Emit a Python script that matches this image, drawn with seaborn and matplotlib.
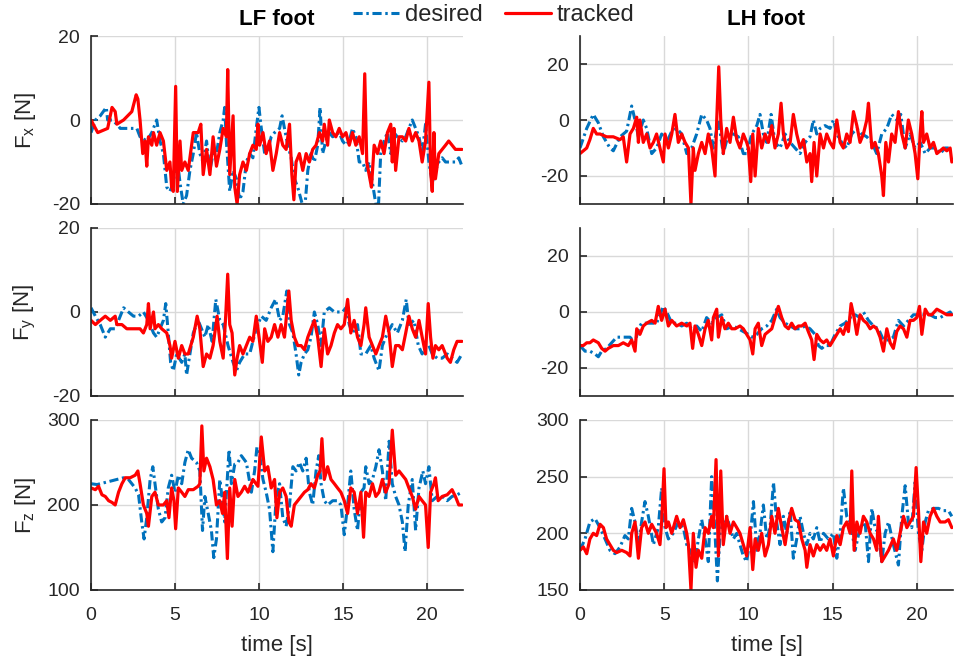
import numpy as np
import pandas as pd
import matplotlib
matplotlib.use("Agg")
import matplotlib.pyplot as plt
import seaborn as sns

# ---- data (time in s, force in N) ----
t_fx_lf_des = [0.00, 0.26, 0.55, 0.91, 0.99, 1.25, 1.54, 1.74, 2.13, 2.53, 2.73, 2.92, 3.32, 3.62, 3.91, 4.11, 4.31, 4.51, 4.70, 4.90, 5.10, 5.30, 5.49, 5.69, 5.89, 6.09, 6.28, 6.48, 6.68, 6.88, 7.08, 7.27, 7.47, 7.67, 7.87, 7.96, 8.06, 8.26, 8.46, 8.66, 8.85, 9.05, 9.25, 9.45, 9.64, 9.84, 10.00, 10.14, 10.34, 10.53, 10.73, 10.93, 11.23, 11.38, 11.52, 11.72, 11.92, 12.11, 12.31, 12.51, 12.71, 12.91, 13.10, 13.30, 13.50, 13.64, 13.79, 13.99, 14.19, 14.39, 14.78, 14.98, 15.18, 15.38, 15.57, 15.77, 15.97, 16.17, 16.36, 16.56, 16.76, 16.96, 17.09, 17.25, 17.45, 17.65, 17.85, 18.04, 18.24, 18.54, 18.74, 18.93, 19.13, 19.33, 19.53, 19.72, 19.92, 20.12, 20.32, 20.51, 20.71, 20.91, 21.11, 21.30, 21.50, 21.70, 21.90, 22.09]
fx_lf_des = [-3, 0, 1, 3, 0, 0, -1, -2, -2, -2, -2, -4, -5, -3, 0, -5, -8, -16, -17, -15, -8, -15, -20, -18, -12, -8, -3, -8, -10, -5, -12, -8, -8, -3, 0, 3, -5, -17, -12, -14, -19, -17, -10, -8, -9, -2, 3, -2, -8, -7, -4, -3, -2, 1, -2, -6, -9, -14, -16, -19, -22, -12, -8, -10, -6, 3, -8, -5, -3, -4, -3, -5, -6, -5, -2, -4, -10, -10, -12, -10, -15, -20, -23, -8, -5, -3, -8, -3, -4, -5, -4, -2, 0, -2, -4, -8, -1, -10, -15, -12, -10, -9, -10, -10, -10, -10, -9, -11]

t_fx_lf_trk = [0.00, 0.40, 0.99, 1.25, 1.44, 1.54, 1.94, 2.43, 2.69, 2.79, 2.92, 3.08, 3.22, 3.32, 3.42, 3.62, 3.72, 3.91, 4.11, 4.31, 4.51, 4.70, 4.80, 4.90, 5.04, 5.14, 5.30, 5.40, 5.59, 5.79, 6.09, 6.38, 6.54, 6.68, 6.88, 7.08, 7.27, 7.47, 7.67, 7.87, 8.06, 8.14, 8.26, 8.46, 8.56, 8.70, 8.85, 9.05, 9.25, 9.45, 9.64, 9.84, 9.94, 10.04, 10.24, 10.43, 10.63, 10.83, 11.03, 11.23, 11.42, 11.62, 11.82, 11.96, 12.08, 12.21, 12.41, 12.61, 12.81, 13.00, 13.20, 13.40, 13.60, 13.79, 13.89, 14.09, 14.19, 14.39, 14.58, 14.78, 14.98, 15.18, 15.38, 15.57, 15.77, 15.97, 16.17, 16.30, 16.42, 16.56, 16.70, 16.86, 17.06, 17.25, 17.45, 17.65, 17.85, 17.94, 18.04, 18.14, 18.34, 18.54, 18.74, 18.93, 19.13, 19.33, 19.53, 19.72, 19.92, 20.12, 20.22, 20.32, 20.42, 20.51, 20.71, 20.91, 21.11, 21.30, 21.50, 21.70, 21.90, 22.09]
fx_lf_trk = [0, -3, -2, 3, 2, -1, 0, 2, 6, 5, 0, -8, -5, -11, -4, -6, -3, -6, -3, -5, -12, -10, -16, -17, 8, -17, -5, -12, -10, -12, -3, -3, -1, -13, -7, -13, -4, -11, -7, -2, -4, 12, -13, 1, -16, -20, -13, -10, -12, -8, -6, -7, -1, -6, -3, -8, -5, -12, -8, -3, -6, -7, -1, -13, -19, -10, -8, -12, -8, -10, -7, -6, -3, -5, -1, -6, 0, -3, -4, -2, -4, -3, -6, -3, -6, -4, -8, 11, -10, -13, -16, -6, -8, -5, -8, -3, -1, -10, -2, -12, -4, -4, -5, -2, -5, -3, -5, -10, -5, 9, -12, -17, -3, -14, -8, -7, -6, -5, -6, -7, -7, -7]

t_fx_lh_des = [0.00, 0.40, 0.79, 1.09, 1.39, 1.78, 1.98, 2.38, 2.77, 3.07, 3.27, 3.47, 3.76, 3.96, 4.26, 4.55, 4.85, 5.15, 5.45, 5.74, 6.04, 6.34, 6.63, 6.93, 7.23, 7.52, 7.72, 7.92, 8.22, 8.51, 8.81, 9.11, 9.41, 9.70, 9.90, 10.20, 10.50, 10.69, 10.89, 11.09, 11.35, 11.58, 11.88, 12.18, 12.48, 12.77, 13.07, 13.37, 13.66, 13.86, 14.06, 14.26, 14.55, 14.85, 15.05, 15.25, 15.54, 15.84, 16.14, 16.44, 16.73, 17.03, 17.33, 17.62, 17.92, 18.22, 18.51, 18.81, 19.05, 19.31, 19.60, 19.90, 20.20, 20.50, 20.79, 21.09, 21.39, 21.68, 21.98, 22.08]
fx_lh_des = [-10, -3, 2, -1, -6, -10, -11, -6, -4, 5, 0, -6, 0, -3, -12, -10, -5, -8, -4, -3, -5, -12, -10, -5, 2, 0, -3, -10, 0, -12, -5, -5, -6, -12, -12, -5, -2, 2, -5, -8, 2, -8, -10, -5, -8, -10, -12, -8, -6, 0, -5, -3, -2, -3, 0, -5, -8, -10, -5, -3, -5, -6, -8, -12, -5, -3, 2, 0, 2, -10, -5, -10, -8, -12, -10, -10, -12, -10, -10, -10]

t_fx_lh_trk = [0.00, 0.20, 0.40, 0.59, 0.79, 0.99, 1.19, 1.58, 1.98, 2.38, 2.57, 2.77, 2.97, 3.17, 3.37, 3.47, 3.56, 3.76, 3.96, 4.16, 4.36, 4.55, 4.75, 4.95, 5.05, 5.25, 5.45, 5.64, 5.84, 6.04, 6.24, 6.44, 6.59, 6.73, 6.83, 7.03, 7.23, 7.43, 7.62, 7.82, 8.02, 8.12, 8.24, 8.36, 8.51, 8.71, 8.91, 9.11, 9.31, 9.50, 9.70, 9.90, 10.00, 10.14, 10.26, 10.40, 10.59, 10.79, 10.99, 11.19, 11.39, 11.58, 11.78, 11.94, 12.08, 12.28, 12.48, 12.67, 12.87, 13.07, 13.27, 13.47, 13.66, 13.76, 13.90, 14.06, 14.26, 14.46, 14.65, 14.85, 15.05, 15.25, 15.45, 15.64, 15.84, 16.04, 16.24, 16.44, 16.63, 16.83, 17.03, 17.13, 17.33, 17.52, 17.72, 17.92, 18.02, 18.16, 18.32, 18.51, 18.71, 18.91, 19.11, 19.31, 19.50, 19.70, 19.90, 20.06, 20.20, 20.30, 20.40, 20.59, 20.79, 20.99, 21.19, 21.39, 21.58, 21.78, 21.98, 22.08]
fx_lh_trk = [-12, -11, -10, -7, -3, -5, -5, -6, -6, -7, -6, -15, -5, -3, 1, -8, 0, -8, -5, -10, -8, -5, -10, -15, -5, -10, -5, 2, -8, -5, -8, -10, -30, -10, -18, -12, -8, -12, -5, -10, -20, 0, 19, 0, -12, -3, -8, 1, -7, -10, -5, -8, -10, -22, -5, -20, -3, -10, -5, -8, -2, -10, -5, 6, -5, -10, -8, 2, -5, -10, -7, -15, -12, -22, -8, -20, -5, -10, -5, -8, -10, 0, -8, -10, -5, -8, 3, -2, -8, -5, 0, 6, -10, -8, -12, -20, -27, -8, -15, -5, -8, 3, -5, -10, 0, -5, -12, -21, -5, 3, -8, -5, -10, -8, -12, -11, -10, -11, -10, -15]

t_fy_lf_des = [0.00, 0.26, 0.55, 0.85, 1.15, 1.44, 1.64, 1.94, 2.23, 2.53, 2.83, 3.12, 3.42, 3.72, 3.91, 4.11, 4.31, 4.45, 4.60, 4.74, 4.90, 5.10, 5.40, 5.59, 5.69, 5.89, 6.09, 6.38, 6.58, 6.78, 6.98, 7.21, 7.43, 7.67, 7.87, 8.16, 8.46, 8.66, 8.85, 9.15, 9.45, 9.64, 9.84, 10.14, 10.43, 10.73, 10.99, 11.23, 11.42, 11.66, 11.82, 12.02, 12.21, 12.37, 12.51, 12.71, 12.91, 13.10, 13.30, 13.50, 13.70, 13.89, 14.19, 14.49, 14.78, 14.98, 15.18, 15.38, 15.57, 15.87, 16.07, 16.36, 16.66, 16.86, 17.15, 17.35, 17.65, 17.94, 18.24, 18.54, 18.77, 18.93, 19.23, 19.49, 19.72, 19.92, 20.12, 20.32, 20.61, 20.91, 21.21, 21.50, 21.80, 22.09]
fy_lf_des = [1, -1, -3, -6, -4, -4, -2, 1, 0, -1, -1, 0, -2, -5, -6, -4, -2, 2, -5, -12, -14, -10, -12, -10, -15, -10, -5, -2, -4, -6, -3, -7, 3, -2, -3, -8, -12, -14, -12, -10, -10, -7, -4, -1, -2, 1, 3, -2, -1, 5, -3, -5, -10, -15, -12, -10, -9, -6, 0, -3, -8, 0, 1, 0, 0, 0, 1, -3, -5, -3, -10, -10, -8, -11, -14, -8, -5, -3, -5, -2, 3, -3, -2, -8, -10, -8, -8, -10, -11, -11, -10, -11, -12, -10]

t_fy_lf_trk = [0.00, 0.26, 0.55, 0.85, 1.15, 1.44, 1.54, 1.84, 2.13, 2.53, 2.92, 3.12, 3.32, 3.42, 3.52, 3.72, 3.81, 4.01, 4.21, 4.51, 4.70, 4.80, 5.00, 5.20, 5.40, 5.59, 5.79, 6.09, 6.32, 6.48, 6.68, 6.88, 7.08, 7.27, 7.51, 7.67, 7.87, 8.02, 8.14, 8.26, 8.40, 8.56, 8.70, 8.85, 9.05, 9.25, 9.45, 9.64, 9.84, 10.04, 10.20, 10.34, 10.53, 10.73, 10.93, 11.13, 11.32, 11.52, 11.66, 11.78, 11.92, 12.11, 12.31, 12.51, 12.71, 12.91, 13.10, 13.30, 13.50, 13.70, 13.89, 14.09, 14.29, 14.49, 14.68, 14.88, 15.08, 15.28, 15.47, 15.67, 15.87, 16.07, 16.26, 16.36, 16.56, 16.76, 16.96, 17.15, 17.35, 17.55, 17.75, 17.94, 18.14, 18.34, 18.54, 18.74, 18.93, 19.13, 19.33, 19.53, 19.72, 19.92, 20.08, 20.22, 20.36, 20.51, 20.71, 20.91, 21.21, 21.40, 21.60, 21.80, 22.09]
fy_lf_trk = [-2, -3, -2, -1, -2, -1, -3, -3, -4, -4, -4, -5, -3, 2, -4, 0, -4, -3, -4, -5, -8, -11, -7, -11, -8, -10, -10, -6, -1, -4, -13, -10, -11, -8, -1, -7, -11, -1, 9, -3, -5, -15, -11, -8, -10, -8, -6, -7, -1, -7, -12, -4, -7, -6, -3, -6, -3, -6, 0, 5, -2, -6, -8, -8, -9, -6, -4, -2, -6, -13, -4, -10, -8, -5, -3, -4, -3, 3, -5, -2, -6, -8, -3, 1, -6, -8, -10, -8, -6, -1, -5, -13, -8, -8, -9, -5, -1, -4, -6, -2, -6, -10, 2, -6, -11, -8, -9, -8, -11, -12, -9, -7, -7]

t_fy_lh_des = [0.00, 0.30, 0.59, 0.89, 1.09, 1.29, 1.58, 1.88, 2.18, 2.57, 2.97, 3.27, 3.47, 3.66, 3.96, 4.26, 4.55, 4.75, 4.95, 5.15, 5.45, 5.74, 6.04, 6.34, 6.63, 6.93, 7.23, 7.52, 7.82, 8.12, 8.42, 8.71, 9.11, 9.41, 9.70, 10.00, 10.20, 10.50, 10.79, 11.09, 11.39, 11.68, 11.88, 12.18, 12.48, 12.77, 13.07, 13.37, 13.66, 13.96, 14.16, 14.36, 14.55, 14.85, 15.15, 15.45, 15.74, 16.04, 16.34, 16.63, 16.83, 17.13, 17.43, 17.72, 18.02, 18.32, 18.61, 18.91, 19.21, 19.50, 19.80, 20.10, 20.40, 20.79, 21.09, 21.39, 21.68, 21.98, 22.08]
fy_lh_des = [-12, -14, -14, -15, -16, -14, -13, -11, -9, -9, -9, -11, -6, -4, -4, -4, -4, -1, 2, 0, -4, -4, -5, -4, -6, -5, -7, -2, -4, -2, -1, -6, -5, -6, -7, -8, -9, -8, -6, -5, -3, 1, -2, -4, -5, -6, -6, -5, -6, -8, -12, -13, -12, -12, -8, -5, -4, -2, -1, -2, 0, -3, -5, -6, -10, -10, -9, -3, -5, -3, -1, -1, -1, -1, -2, -2, -1, 0, -1]

t_fy_lh_trk = [0.00, 0.20, 0.40, 0.59, 0.79, 1.09, 1.29, 1.49, 1.68, 1.98, 2.28, 2.57, 2.87, 3.07, 3.27, 3.37, 3.56, 3.76, 3.96, 4.26, 4.46, 4.65, 4.85, 5.05, 5.25, 5.45, 5.74, 6.04, 6.34, 6.53, 6.69, 6.83, 7.03, 7.23, 7.43, 7.62, 7.82, 7.92, 8.12, 8.22, 8.42, 8.61, 8.81, 9.01, 9.21, 9.50, 9.70, 9.90, 10.10, 10.26, 10.40, 10.59, 10.79, 10.99, 11.19, 11.39, 11.58, 11.78, 11.98, 12.18, 12.38, 12.57, 12.77, 12.97, 13.17, 13.37, 13.56, 13.76, 13.90, 14.06, 14.26, 14.46, 14.65, 14.85, 15.05, 15.25, 15.45, 15.64, 15.84, 15.94, 16.10, 16.28, 16.44, 16.63, 16.83, 17.03, 17.23, 17.43, 17.62, 17.82, 18.02, 18.22, 18.42, 18.61, 18.81, 19.01, 19.21, 19.41, 19.60, 19.80, 20.00, 20.16, 20.30, 20.50, 20.69, 20.89, 21.19, 21.49, 21.78, 22.08]
fy_lh_trk = [-12, -12, -11, -11, -10, -11, -13, -14, -13, -12, -12, -11, -12, -10, -14, -6, -8, -5, -4, -3, -4, 2, -3, 1, -5, -3, -5, -4, -5, -4, -13, -5, -8, -12, -6, -3, -10, -2, 1, -9, -2, -6, -4, -6, -6, -5, -6, -8, -10, -15, -6, -4, -12, -8, -7, -6, -2, 2, -2, -5, -6, -4, -6, -5, -5, -4, -7, -10, -17, -8, -10, -11, -10, -12, -10, -8, -6, -8, -4, -7, 3, -2, -8, -1, -3, -4, -6, -5, -6, -9, -14, -6, -11, -13, -7, -5, -6, -9, -3, -3, -2, 2, -8, 1, -1, -1, 1, 0, -1, -1]

t_fz_lf_des = [0.00, 0.36, 0.75, 1.15, 1.54, 1.94, 2.23, 2.43, 2.63, 2.83, 3.02, 3.16, 3.32, 3.52, 3.68, 3.81, 4.01, 4.21, 4.41, 4.60, 4.80, 5.00, 5.20, 5.40, 5.59, 5.79, 5.99, 6.28, 6.48, 6.64, 6.78, 6.98, 7.17, 7.31, 7.47, 7.67, 7.83, 7.96, 8.22, 8.36, 8.56, 8.75, 8.95, 9.25, 9.55, 9.74, 9.88, 10.04, 10.24, 10.43, 10.63, 10.83, 11.03, 11.23, 11.42, 11.62, 11.82, 12.02, 12.21, 12.41, 12.61, 12.81, 13.00, 13.20, 13.40, 13.56, 13.70, 13.89, 14.09, 14.39, 14.68, 14.88, 15.08, 15.28, 15.47, 15.67, 15.87, 16.07, 16.26, 16.36, 16.56, 16.76, 16.96, 17.15, 17.35, 17.55, 17.75, 17.94, 18.14, 18.34, 18.54, 18.70, 18.89, 19.13, 19.33, 19.53, 19.76, 19.92, 20.12, 20.32, 20.61, 20.91, 21.21, 21.50, 21.80, 22.09]
fz_lf_des = [225, 224, 226, 228, 230, 232, 230, 225, 220, 212, 180, 160, 185, 230, 245, 225, 195, 180, 185, 220, 235, 215, 235, 225, 250, 265, 255, 250, 240, 170, 210, 190, 170, 138, 160, 230, 205, 180, 265, 225, 248, 250, 258, 250, 215, 240, 268, 260, 230, 215, 195, 145, 210, 225, 185, 175, 200, 245, 240, 250, 240, 255, 215, 200, 240, 258, 225, 205, 200, 205, 205, 200, 165, 200, 240, 195, 170, 215, 220, 245, 225, 230, 245, 265, 240, 205, 275, 225, 210, 200, 180, 145, 200, 230, 170, 220, 240, 225, 245, 205, 210, 210, 205, 210, 212, 215]

t_fz_lf_trk = [0.00, 0.26, 0.45, 0.65, 0.85, 1.05, 1.25, 1.44, 1.64, 1.84, 2.04, 2.33, 2.63, 2.79, 2.92, 3.12, 3.32, 3.42, 3.62, 3.81, 4.01, 4.31, 4.51, 4.64, 4.80, 4.94, 5.04, 5.20, 5.40, 5.59, 5.79, 6.09, 6.38, 6.48, 6.60, 6.72, 6.88, 7.08, 7.27, 7.47, 7.67, 7.83, 7.96, 8.12, 8.26, 8.40, 8.56, 8.75, 8.95, 9.15, 9.35, 9.64, 9.94, 10.14, 10.34, 10.53, 10.73, 10.93, 11.07, 11.23, 11.42, 11.62, 11.78, 11.92, 12.11, 12.31, 12.51, 12.71, 12.91, 13.10, 13.30, 13.50, 13.64, 13.75, 13.89, 14.09, 14.29, 14.49, 14.68, 14.88, 15.08, 15.28, 15.47, 15.67, 15.87, 16.07, 16.23, 16.36, 16.56, 16.76, 16.96, 17.15, 17.35, 17.55, 17.75, 17.94, 18.14, 18.34, 18.54, 18.74, 18.93, 19.13, 19.33, 19.53, 19.72, 19.92, 20.08, 20.22, 20.42, 20.51, 20.67, 20.91, 21.21, 21.50, 21.70, 21.90, 22.09]
fz_lf_trk = [220, 218, 222, 212, 210, 205, 203, 200, 215, 225, 232, 232, 235, 240, 225, 200, 190, 175, 210, 215, 200, 200, 205, 185, 220, 205, 172, 220, 215, 210, 218, 218, 222, 225, 293, 240, 255, 245, 230, 200, 205, 190, 215, 137, 220, 175, 230, 210, 215, 222, 215, 230, 222, 280, 240, 245, 220, 230, 185, 215, 220, 210, 180, 175, 200, 205, 210, 215, 218, 225, 220, 235, 240, 278, 230, 245, 230, 225, 220, 215, 205, 190, 220, 215, 190, 215, 162, 215, 210, 225, 210, 215, 230, 215, 225, 288, 235, 240, 235, 230, 220, 210, 195, 210, 205, 200, 150, 215, 225, 232, 205, 210, 212, 218, 210, 200, 200]

t_fz_lh_des = [0.00, 0.30, 0.59, 0.89, 1.19, 1.49, 1.78, 2.08, 2.38, 2.67, 2.87, 3.07, 3.27, 3.47, 3.66, 3.86, 4.06, 4.36, 4.65, 4.85, 5.05, 5.25, 5.54, 5.84, 6.14, 6.34, 6.53, 6.83, 7.03, 7.23, 7.43, 7.62, 7.82, 8.02, 8.16, 8.32, 8.51, 8.71, 8.91, 9.11, 9.31, 9.50, 9.70, 9.90, 10.10, 10.30, 10.50, 10.69, 10.89, 11.09, 11.29, 11.49, 11.68, 11.88, 12.08, 12.28, 12.48, 12.67, 12.87, 13.07, 13.27, 13.47, 13.66, 13.86, 14.06, 14.26, 14.46, 14.75, 15.05, 15.25, 15.45, 15.64, 15.84, 16.04, 16.34, 16.63, 16.93, 17.13, 17.33, 17.52, 17.72, 17.92, 18.12, 18.32, 18.61, 18.91, 19.11, 19.31, 19.50, 19.70, 19.90, 20.10, 20.30, 20.50, 20.69, 20.99, 21.29, 21.58, 21.88, 22.08]
fz_lh_des = [185, 195, 210, 213, 205, 195, 185, 182, 188, 198, 195, 222, 210, 190, 210, 228, 215, 190, 205, 240, 205, 195, 200, 210, 205, 190, 185, 175, 195, 212, 195, 175, 250, 200, 158, 200, 210, 215, 205, 195, 200, 190, 180, 175, 195, 228, 185, 200, 225, 195, 205, 245, 210, 190, 215, 200, 220, 178, 195, 215, 200, 190, 200, 195, 205, 192, 200, 195, 200, 178, 200, 240, 215, 210, 185, 205, 210, 175, 222, 205, 200, 175, 200, 210, 190, 172, 215, 242, 210, 205, 245, 200, 185, 210, 220, 222, 222, 220, 220, 215]

t_fz_lh_trk = [0.00, 0.20, 0.40, 0.59, 0.79, 0.99, 1.19, 1.39, 1.58, 1.78, 1.98, 2.18, 2.48, 2.77, 2.97, 3.07, 3.27, 3.47, 3.66, 3.86, 4.06, 4.26, 4.55, 4.75, 4.85, 4.99, 5.11, 5.25, 5.45, 5.74, 5.94, 6.14, 6.34, 6.44, 6.59, 6.73, 6.89, 7.03, 7.23, 7.43, 7.62, 7.82, 7.92, 8.08, 8.22, 8.36, 8.51, 8.71, 8.91, 9.11, 9.31, 9.50, 9.70, 9.90, 10.10, 10.26, 10.40, 10.59, 10.79, 10.99, 11.19, 11.39, 11.58, 11.78, 11.98, 12.18, 12.38, 12.57, 12.77, 12.97, 13.17, 13.37, 13.47, 13.66, 13.86, 14.06, 14.26, 14.46, 14.65, 14.85, 15.05, 15.25, 15.45, 15.64, 15.84, 16.04, 16.14, 16.28, 16.44, 16.63, 16.83, 17.03, 17.23, 17.43, 17.62, 17.72, 17.92, 18.12, 18.32, 18.61, 18.81, 19.01, 19.21, 19.41, 19.60, 19.80, 19.96, 20.10, 20.24, 20.40, 20.59, 20.79, 20.99, 21.19, 21.39, 21.68, 21.88, 22.08]
fz_lh_trk = [185, 188, 182, 195, 200, 198, 208, 205, 195, 190, 185, 183, 185, 183, 180, 200, 210, 178, 205, 210, 200, 208, 200, 190, 210, 257, 205, 210, 200, 215, 205, 212, 200, 190, 150, 200, 170, 185, 178, 205, 200, 215, 205, 265, 180, 255, 190, 215, 200, 210, 205, 200, 190, 180, 205, 168, 195, 185, 200, 180, 190, 215, 200, 222, 205, 190, 210, 222, 212, 210, 195, 185, 170, 190, 180, 190, 185, 190, 185, 195, 180, 198, 190, 205, 210, 200, 255, 185, 210, 200, 215, 210, 200, 195, 185, 215, 175, 180, 185, 195, 185, 200, 215, 205, 210, 215, 258, 220, 175, 210, 200, 215, 222, 215, 210, 210, 212, 205]

ylabels = ["F$_x$ [N]", "F$_y$ [N]", "F$_z$ [N]"]
titles = ["LF foot", "LH foot"]

# layout: rows x cols
series = [
    [(t_fx_lf_des, fx_lf_des, t_fx_lf_trk, fx_lf_trk), (t_fx_lh_des, fx_lh_des, t_fx_lh_trk, fx_lh_trk)],
    [(t_fy_lf_des, fy_lf_des, t_fy_lf_trk, fy_lf_trk), (t_fy_lh_des, fy_lh_des, t_fy_lh_trk, fy_lh_trk)],
    [(t_fz_lf_des, fz_lf_des, t_fz_lf_trk, fz_lf_trk), (t_fz_lh_des, fz_lh_des, t_fz_lh_trk, fz_lh_trk)],
]
ylims = [[(-20, 20), (-30, 30)], [(-20, 20), (-30, 30)], [(100, 300), (150, 300)]]
yticks = [[[-20, 0, 20], [-20, 0, 20]], [[-20, 0, 20], [-20, 0, 20]],
          [[100, 200, 300], [150, 200, 250, 300]]]

sns.set_style("ticks")
plt.rcParams['font.family'] = ['Liberation Sans', 'DejaVu Sans']
plt.rcParams['mathtext.default'] = 'regular'
plt.rcParams['axes.unicode_minus'] = False

BLUE = "#0072BD"
RED = "#FF0000"
DARK = "#262626"

fig = plt.figure(figsize=(9.55, 6.57), dpi=100)
lefts = [0.0953, 0.6073]
widths = [0.3895, 0.3906]
bottoms = [0.6895, 0.3973, 0.1020]
heights = [0.2557, 0.2557, 0.2588]

for r in range(3):
    for c in range(2):
        ax = fig.add_axes([lefts[c], bottoms[r], widths[c], heights[r]])
        td, yd, tt, yt = series[r][c]
        sns.lineplot(x=td, y=yd, ax=ax, color=BLUE, lw=2.2,
                     linestyle=(0, (3, 1.2, 0.8, 1.2)), estimator=None, sort=False,
                     label="desired")
        sns.lineplot(x=tt, y=yt, ax=ax, color=RED, lw=2.3,
                     estimator=None, sort=False, label="tracked")
        ax.get_legend().remove()
        ax.set_xlim(0, 22.15)
        ax.set_ylim(*ylims[r][c])
        ax.set_yticks(yticks[r][c])
        ax.set_xticks([0, 5, 10, 15, 20])
        ax.grid(True, color="#d9d9d9", lw=1.0)
        ax.set_axisbelow(True)
        for s in ["top", "right"]:
            ax.spines[s].set_visible(False)
        for s in ["left", "bottom"]:
            ax.spines[s].set_color(DARK)
            ax.spines[s].set_linewidth(1.2)
        ax.tick_params(direction="in", length=5, width=1.2, colors=DARK,
                       labelsize=14)
        ax.tick_params(axis="y", pad=8)
        ax.tick_params(axis="x", pad=12)
        if r < 2:
            ax.tick_params(labelbottom=False)
            ax.set_xlabel("")
        else:
            ax.set_xlabel("time [s]", fontsize=16, color=DARK, labelpad=8)
        if c == 0:
            ax.set_ylabel(ylabels[r], fontsize=16, color=DARK)
            ax.yaxis.set_label_coords(-0.142, 0.5)
        else:
            ax.set_ylabel("")
        if r == 0:
            ax.set_title(titles[c], fontsize=16, fontweight="bold", color="black", pad=8)
        if r == 0 and c == 0:
            handles, labels = ax.get_legend_handles_labels()

fig.legend(handles, labels, loc="center", bbox_to_anchor=(0.517, 0.977),
           ncol=2, frameon=False, fontsize=17, handlelength=1.95,
           handletextpad=0.25, columnspacing=0.95, borderaxespad=0, borderpad=0)

fig.savefig("out.png", dpi=100)
